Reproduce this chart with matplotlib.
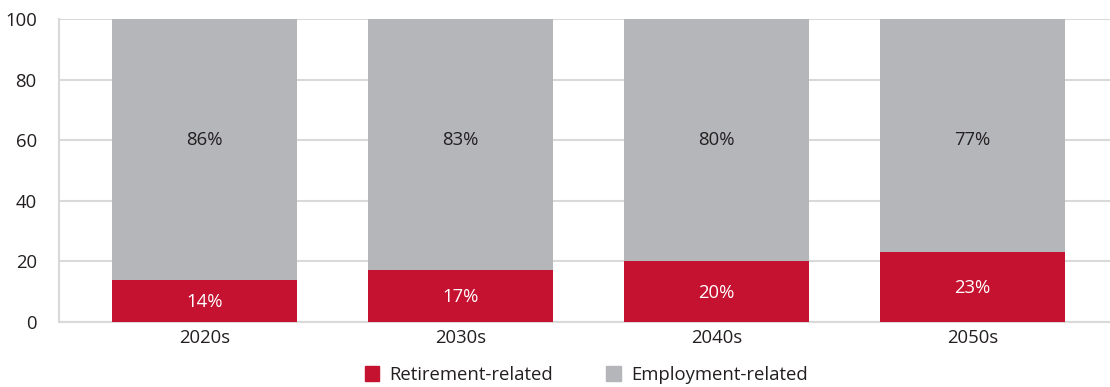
import numpy as np
import matplotlib.pyplot as plt
from matplotlib.patches import Patch

plt.rcParams['font.family'] = ['Open Sans', 'DejaVu Sans']

decades = ["2020s", "2030s", "2040s", "2050s"]
retirement = [14, 17, 20, 23]
employment = [86, 83, 80, 77]

rot = "#C41230"
grau = "#B5B6B9"
text_farbe = "#231F20"
gitter = "#D9D9D9"
groesse = 13.3

fig = plt.figure(figsize=(11.1, 3.87), dpi=100)
ax = fig.add_axes([59 / 1110, 1 - 322 / 387, 1 - 59 / 1110, (322 - 19) / 387])

x = np.arange(len(decades))
breite = 0.723
ax.bar(x, retirement, breite, color=rot, zorder=3)
ax.bar(x, employment, breite, bottom=retirement, color=grau, zorder=3)

for i in x:
    ax.text(i, retirement[i] / 2 - 0.3, f"{retirement[i]}%", ha="center", va="center",
            color="white", fontsize=groesse)
    # Beschriftung der grauen Balken auf gleicher Höhe
    ax.text(i, 60, f"{employment[i]}%", ha="center", va="center",
            color=text_farbe, fontsize=groesse)

ax.set_xlim(-0.568, 3.537)
ax.set_ylim(0, 100)
ax.set_yticks(np.arange(0, 101, 20))
ax.set_xticks(x)
ax.set_xticklabels(decades)
ax.tick_params(length=0, labelsize=groesse, colors=text_farbe, pad=5)
ax.tick_params(axis="y", pad=16)
ax.grid(axis="y", color=gitter, linewidth=1.5, zorder=0)
for s in ["top", "right"]:
    ax.spines[s].set_visible(False)
for s in ["left", "bottom"]:
    ax.spines[s].set_color(gitter)
    ax.spines[s].set_linewidth(1.5)

handles = [Patch(color=rot, label="Retirement-related"),
           Patch(color=grau, label="Employment-related")]
fig.legend(handles=handles, loc="lower center", bbox_to_anchor=(0.528, -0.035), ncol=2,
           frameon=False, fontsize=groesse, handlelength=0.8, handleheight=0.8,
           columnspacing=2.85, handletextpad=0.55, labelcolor=text_farbe)

fig.savefig("out.png", dpi=100)
